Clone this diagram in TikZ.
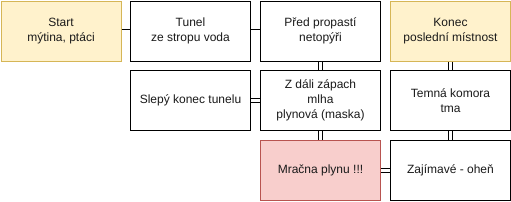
\documentclass[tikz,border=0pt]{standalone}
\usepackage{fontspec}
\setmainfont{Liberation Sans}
\definecolor{yfill}{HTML}{FFF2CC}
\definecolor{ydraw}{HTML}{D6B656}
\definecolor{rfill}{HTML}{F8CECC}
\definecolor{rdraw}{HTML}{B85450}
\definecolor{txt}{HTML}{1A1A1A}
\begin{document}
\begin{tikzpicture}[x=1pt,y=-1pt,
  box/.style={draw=black, fill=white, line width=1pt, minimum width=120pt, minimum height=60pt,
    inner sep=0pt, align=center, font=\fontsize{12}{15}\selectfont, text=txt, anchor=north west},
  ybox/.style={box, draw=ydraw, fill=yfill},
  rbox/.style={box, draw=rdraw, fill=rfill},
  link/.style={draw=black, line width=0.9pt, double=white, double distance=3pt}]
\useasboundingbox (0,0) rectangle (511,201);
\node[ybox] (start) at (0.5,0.5) {Start\\mýtina, ptáci};
\node[box] (tunel) at (130,0.5) {Tunel\\ze stropu voda};
\node[box] (pred) at (260,0.5) {Před propastí\\netopýři};
\node[ybox] (konec) at (390,0.5) {Konec\\poslední místnost};
\node[box] (slepy) at (130,70) {Slepý konec tunelu};
\node[box] (zdali) at (260,70) {Z dáli zápach\\mlha\\plynová (maska)};
\node[box] (temna) at (390,70) {Temná komora\\tma};
\node[rbox] (mracna) at (260,140) {Mračna plynu !!!};
\node[box] (zajim) at (390,140) {Zajímavé - oheň};
\draw[link] (start.east) -- (tunel.west);
\draw[link] (tunel.east) -- (pred.west);
\draw[link] (pred.south) -- (zdali.north);
\draw[link] (konec.south) -- (temna.north);
\draw[link] (slepy.east) -- (zdali.west);
\draw[link] (zdali.south) -- (mracna.north);
\draw[link] (temna.south) -- (zajim.north);
\draw[link] (mracna.east) -- (zajim.west);
\end{tikzpicture}
\end{document}
